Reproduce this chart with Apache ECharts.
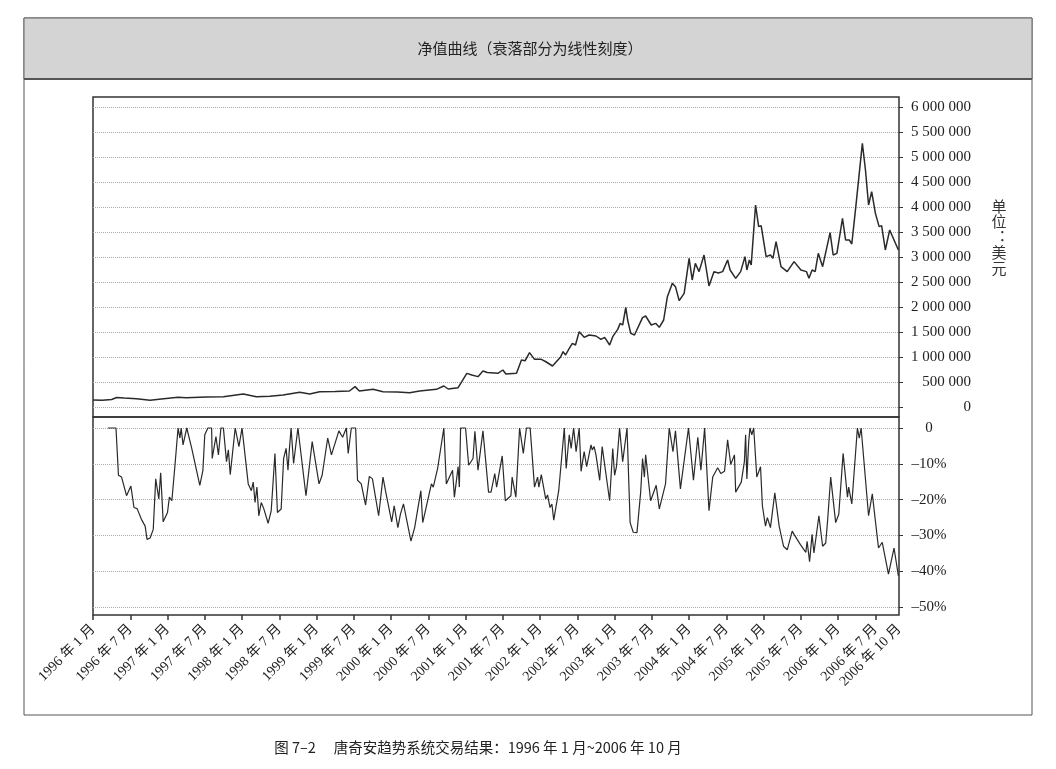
<!DOCTYPE html>
<html>
<head>
<meta charset="utf-8">
<title>净值曲线</title>
<script src="https://cdn.jsdelivr.net/npm/echarts@6/dist/echarts.min.js"></script>
<style>
  html, body { margin: 0; padding: 0; background: #fff; }
  #main { width: 1056px; height: 769px; }
</style>
</head>
<body>
<div id="main"></div>
<script>
// x values are months counted from 1996-01 (0 = Jan 1996)
const eqMonths = [0, 1.5, 3, 3.8, 5, 7, 9.2, 11, 13.7, 15, 18.3, 21, 24.2, 26.3, 28.5, 30.6, 33.3, 34.9, 36.5, 39,
  41.3, 42.2, 42.9, 45.1, 46.7, 49, 51, 52.6, 55.3, 56.5, 57.2, 58.8, 60.2, 61, 62, 62.8, 63.5, 65.2, 66, 66.5,
  68.2, 69, 69.6, 70.3, 71.1, 72.2, 73, 74, 75.3, 75.7, 76.1, 76.7, 77.2, 77.7, 78.3, 79.1, 79.9, 81, 81.8, 82.4,
  83.2, 83.7, 84.5, 84.9, 85.3, 85.8, 86.1, 86.6, 87.2, 88.5, 89, 89.9, 90.6, 91.2, 91.9, 92.5, 93.3, 93.8, 94.4, 95.2,
  96, 96.5, 97, 97.6, 98.4, 99.2, 100, 100.7, 101.4, 102.2, 102.6, 103.5, 104.3, 105, 105.3, 105.7, 106, 106.7, 107.2, 107.6,
  108.4, 109.1, 109.5, 110, 110.8, 111.8, 112.9, 114, 114.9, 115.3, 115.8, 116.3, 116.8, 117.5, 118.7, 119.2, 119.8, 120.7, 121.2, 121.8,
  122.2, 122.9, 123.9, 124.4, 124.9, 125.4, 126, 126.6, 127, 127.6, 128.3, 129.7];
const equity = [140000, 135000, 150000, 190000, 180000, 165000, 135000, 160000, 195000, 185000, 200000, 205000, 260000, 207000, 215000, 240000, 293000, 260000, 307000, 310000,
  320000, 407000, 320000, 353000, 307000, 300000, 287000, 320000, 353000, 420000, 360000, 387000, 673000, 640000, 607000, 720000, 690000, 673000, 740000, 660000,
  673000, 940000, 927000, 1087000, 953000, 953000, 900000, 820000, 1000000, 1107000, 1040000, 1173000, 1273000, 1240000, 1507000, 1393000, 1440000, 1420000, 1353000, 1393000,
  1240000, 1407000, 1553000, 1673000, 1640000, 1993000, 1740000, 1473000, 1440000, 1787000, 1820000, 1640000, 1673000, 1593000, 1740000, 2207000, 2473000, 2407000, 2127000, 2273000,
  2973000, 2540000, 2873000, 2707000, 3040000, 2420000, 2707000, 2680000, 2707000, 2940000, 2740000, 2573000, 2707000, 3007000, 2740000, 2940000, 2840000, 4040000, 3607000, 3627000,
  3007000, 3040000, 2973000, 3307000, 2807000, 2707000, 2907000, 2740000, 2707000, 2573000, 2740000, 2707000, 3073000, 2807000, 3487000, 3040000, 3073000, 3773000, 3340000, 3340000,
  3260000, 4073000, 5273000, 4740000, 4040000, 4307000, 3873000, 3607000, 3627000, 3140000, 3540000, 3140000];

const ddMonths = [2.4, 3.7, 4.1, 4.6, 5.4, 6.1, 6.6, 7.1, 7.8, 8.4, 8.7, 9.2, 9.7, 10.1, 10.6, 10.9, 11.3, 12.0, 12.3, 12.7,
  13.2, 13.7, 14.0, 14.2, 14.5, 15.1, 15.9, 17.2, 17.7, 18.0, 18.5, 19.1, 19.2, 19.8, 20.2, 20.6, 21.0, 21.5, 21.8, 22.1,
  22.9, 23.5, 24.0, 25.0, 25.5, 25.8, 26.1, 26.4, 26.7, 27.1, 27.5, 28.2, 28.7, 29.3, 29.7, 30.3, 30.7, 31.1, 31.4, 31.6,
  31.9, 32.3, 33.0, 34.3, 35.3, 36.4, 36.9, 37.8, 38.4, 39.6, 40.2, 40.8, 41.1, 41.6, 42.3, 42.6, 43.2, 43.9, 44.5, 45.0,
  46.0, 46.7, 47.1, 47.4, 48.1, 48.5, 49.1, 49.5, 50.0, 50.5, 51.2, 51.8, 52.8, 53.1, 54.5, 54.8, 55.5, 56.5, 56.9, 57.9,
  58.2, 58.8, 59.0, 59.2, 60.0, 60.5, 61.2, 61.5, 62.0, 62.8, 63.7, 64.1, 64.7, 65.0, 65.9, 66.4, 67.3, 67.5, 68.1, 68.7,
  69.0, 69.3, 69.8, 70.4, 71.1, 71.6, 71.8, 72.2, 72.9, 73.2, 73.6, 73.9, 74.2, 75.0, 75.9, 76.2, 76.7, 77.0, 77.4, 77.8,
  78.3, 78.6, 79.1, 79.5, 80.2, 80.4, 80.7, 81.0, 81.6, 82.0, 83.2, 83.7, 84.0, 84.3, 84.8, 85.3, 86.0, 86.5, 87.0, 87.6,
  88.2, 88.5, 88.8, 89.0, 89.8, 90.7, 91.2, 92.2, 92.8, 93.4, 93.8, 94.6, 95.9, 96.7, 97.4, 97.9, 98.5, 99.2, 99.8, 100.6,
  101.1, 101.7, 102.2, 102.7, 103.3, 103.5, 104.4, 104.9, 105.1, 105.3, 105.6, 105.8, 106.1, 106.4, 106.9, 107.5, 107.8, 108.3, 108.6, 109.1,
  109.8, 110.5, 111.2, 111.8, 112.6, 112.9, 113.9, 114.8, 115.0, 115.4, 115.8, 116.1, 116.9, 117.5, 118.0, 118.3, 118.8, 119.6, 120.1, 120.8,
  121.5, 121.7, 122.2, 123.1, 123.4, 123.7, 124.9, 125.5, 126.5, 127.1, 128.1, 129.0, 129.7];
const drawdown = [0, 0, -13.2, -13.7, -18.9, -16.2, -22.2, -22.5, -25.5, -27.4, -31.1, -30.7, -28.3, -14.2, -19.8, -12.5, -26.2, -23.6, -19.3, -20.3,
  -10.4, 0, -2.8, 0, -4.7, 0, -5.7, -16, -11.8, -1.9, 0, 0, -8.5, -2.4, -7.5, 0, 0, -9.4, -6.1, -13,
  0, -5.2, 0, -15.6, -17.5, -15.1, -20.8, -16.5, -24.5, -20.8, -22.5, -26.6, -23.1, -7.1, -23.6, -22.6, -8.5, -5.7, -11.8, -6.6,
  0, -9.9, 0, -18.9, -3.8, -15.6, -13.2, -2.8, -7.5, -0.8, -2.6, 0, -7.1, 0, 0, -14.6, -15.6, -21.5, -13.5, -14.2,
  -24.5, -13.7, -17.5, -17, -26.2, -21.7, -27.8, -24.1, -21.2, -25.5, -31.6, -27.8, -17.5, -26.4, -15.6, -16.5, -11.3, 0, -15.6, -11.8,
  -19.3, -10.8, -16.5, 0, 0, -10.4, -8.5, -0.9, -11.8, -0.8, -17.9, -17.9, -12.7, -16.5, -7.8, -20.3, -18.9, -13.7, -19.3, 0,
  0, -7.1, 0, 0, -16.5, -13.7, -16.5, -13, -19.8, -18.7, -22.2, -21.2, -25.7, -17.5, 0, -11.3, -1.9, -5.7, 0, -6.6,
  0, -12.1, -6.6, -10.8, -4.7, -6.1, -5.2, -7.5, -14.6, -5.2, -20.3, -5.7, -13.2, -10.8, 0, -9.4, 0, -26.4, -29.1, -29.2,
  -17.9, -8.5, -13.7, -7.5, -20.3, -16, -22.6, -15.6, 0, -6.6, -0.8, -17, 0, -14.6, -2.6, -11.8, 0, -23.1, -13.7, -11.1,
  -12.7, -12.1, -3.3, -10.2, -7.5, -17.9, -15.1, -9.4, -1.9, -14.2, -3.8, 0, -1.9, 0, -13.7, -10.8, -21.7, -27.4, -25, -27.8,
  -18.1, -27.4, -33, -34, -28.8, -29.7, -32.5, -34.7, -31.6, -37.3, -29.7, -34.9, -24.5, -33, -32.1, -25.9, -13.7, -26.4, -24.1, -7.1,
  -19.3, -16.5, -21.2, 0, -2.8, 0, -24.5, -18.4, -33.5, -31.9, -40.8, -33.5, -41.3];

const tickMonths = [0, 6, 12, 18, 24, 30, 36, 42, 48, 54, 60, 66, 72, 78, 84, 90, 96, 102, 108, 114, 120, 126];
const labelMonths = tickMonths.concat([129.8]);
const xLabels = ['1996 年 1 月', '1996 年 7 月', '1997 年 1 月', '1997 年 7 月', '1998 年 1 月', '1998 年 7 月',
  '1999 年 1 月', '1999 年 7 月', '2000 年 1 月', '2000 年 7 月', '2001 年 1 月', '2001 年 7 月',
  '2002 年 1 月', '2002 年 7 月', '2003 年 1 月', '2003 年 7 月', '2004 年 1 月', '2004 年 7 月',
  '2005 年 1 月', '2005 年 7 月', '2006 年 1 月', '2006 年 7 月', '2006 年 10 月'];
const equityTicks = [0, 500000, 1000000, 1500000, 2000000, 2500000, 3000000, 3500000, 4000000, 4500000, 5000000, 5500000, 6000000];
const drawdownTicks = [0, -10, -20, -30, -40, -50];

const serif = "'Liberation Serif', 'Noto Sans CJK SC', serif";
const cjk = "'Noto Sans CJK SC', sans-serif";

let chart = echarts.init(document.getElementById('main'));

function zip(xs, ys) {
  let out = [];
  for (let i = 0; i < xs.length; i++) {
    out.push([xs[i], ys[i]]);
  }
  return out;
}

chart.setOption({
  animation: false,
  backgroundColor: '#fff',
  graphic: [
    { type: 'rect', z: -10, shape: { x: 24, y: 18, width: 1008, height: 697 },
      style: { fill: '#fff', stroke: '#555', lineWidth: 1 } },
    { type: 'rect', z: -9, shape: { x: 24, y: 18, width: 1008, height: 61 },
      style: { fill: '#d4d4d4', stroke: '#666', lineWidth: 1 } },
    { type: 'line', z: -8, shape: { x1: 24, y1: 79, x2: 1032, y2: 79 },
      style: { stroke: '#555', lineWidth: 2 } },
    { type: 'text', x: 530, y: 48, z: 5,
      style: { text: '净值曲线（衰落部分为线性刻度）', font: '15px ' + cjk, fill: '#222',
        textAlign: 'center', textVerticalAlign: 'middle' } },
    { type: 'text', x: 999, y: 237, z: 5,
      style: { text: '单\n位\n︓\n美\n元', font: '15px ' + cjk, fill: '#333', lineHeight: 15.5,
        textAlign: 'center', textVerticalAlign: 'middle' } },
    { type: 'text', x: 478, y: 747, z: 5,
      style: { text: '图 7–2　 唐奇安趋势系统交易结果：1996 年 1 月~2006 年 10 月', font: '14.5px ' + cjk, fill: '#222',
        textAlign: 'center', textVerticalAlign: 'middle' } }
  ],
  grid: [
    { left: 93, top: 97, width: 806, height: 320, show: true, borderColor: '#333', borderWidth: 1.5, backgroundColor: 'transparent' },
    { left: 93, top: 417, width: 806, height: 198, show: true, borderColor: '#333', borderWidth: 1.5, backgroundColor: 'transparent' }
  ],
  xAxis: [
    { type: 'value', gridIndex: 0, min: 0, max: 129.8,
      axisLine: { show: false, onZero: false }, axisTick: { show: false }, axisLabel: { show: false }, splitLine: { show: false } },
    { type: 'value', gridIndex: 1, min: 0, max: 129.8, position: 'bottom',
      axisLine: { show: false, onZero: false },
      axisTick: { show: true, inside: false, length: 5, customValues: tickMonths, lineStyle: { color: '#333', width: 1.5 } },
      axisLabel: {
        customValues: labelMonths, rotate: 45, margin: 12, fontSize: 14, fontFamily: serif, color: '#222',
        formatter: function(v) {
          let i = labelMonths.indexOf(v);
          return i >= 0 ? xLabels[i] : '';
        }
      },
      splitLine: { show: false } }
  ],
  yAxis: [
    { type: 'value', gridIndex: 0, position: 'right', min: -200000, max: 6200000,
      axisLine: { show: false, onZero: false },
      axisTick: { show: true, inside: false, length: 4, customValues: equityTicks, lineStyle: { color: '#333' } },
      axisLabel: {
        customValues: equityTicks, align: 'right', margin: 72, fontSize: 15, fontFamily: serif, color: '#222',
        formatter: function(v) {
          return String(v).replace(/\B(?=(\d{3})+(?!\d))/g, ' ');
        }
      },
      splitLine: { show: true, lineStyle: { color: '#aaa', type: 'dotted', width: 1 } } },
    { type: 'value', gridIndex: 1, position: 'right', min: -52.2, max: 3.07,
      axisLine: { show: false, onZero: false },
      axisTick: { show: true, inside: false, length: 4, customValues: drawdownTicks, lineStyle: { color: '#333' } },
      axisLabel: {
        customValues: drawdownTicks, align: 'center', margin: 30, fontSize: 15, fontFamily: serif, color: '#222',
        formatter: function(v) {
          return v === 0 ? '0' : '–' + Math.abs(v) + '%';
        }
      },
      splitLine: { show: true, lineStyle: { color: '#aaa', type: 'dotted', width: 1 } } }
  ],
  series: [
    { name: '净值', type: 'line', xAxisIndex: 0, yAxisIndex: 0, showSymbol: false,
      lineStyle: { color: '#2a2a2a', width: 1.5 }, data: zip(eqMonths, equity) },
    { name: '衰落', type: 'line', xAxisIndex: 1, yAxisIndex: 1, showSymbol: false,
      lineStyle: { color: '#2a2a2a', width: 1.2 }, data: zip(ddMonths, drawdown) }
  ]
});
</script>
</body>
</html>
